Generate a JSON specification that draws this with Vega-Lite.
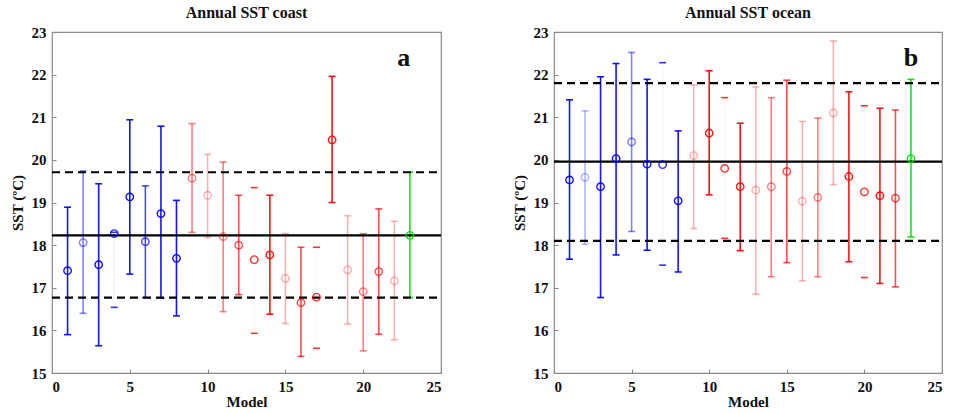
{
  "$schema": "https://vega.github.io/schema/vega-lite/v6.json",
  "background": "white",
  "padding": {"left": 9, "top": 4, "right": 5, "bottom": 0},
  "spacing": 68,
  "config": {
    "font": "Liberation Serif",
    "view": {"stroke": "#8a8a8a", "strokeWidth": 1.2},
    "axis": {
      "labelFont": "Liberation Serif",
      "labelFontWeight": "bold",
      "labelFontSize": 15,
      "labelColor": "#111",
      "titleFont": "Liberation Serif",
      "titleFontWeight": "bold",
      "titleFontSize": 15,
      "titleColor": "#111",
      "grid": false,
      "domain": false,
      "tickColor": "#888",
      "tickSize": -4,
      "labelPadding": 10
    },
    "title": {
      "font": "Liberation Serif",
      "fontWeight": "bold",
      "fontSize": 16,
      "color": "#111",
      "offset": 0
    }
  },
  "datasets": {
    "coast": [
      {"model": 1, "mean": 17.40, "lo": 15.90, "hi": 18.89, "group": "blue", "tier": 4},
      {"model": 2, "mean": 18.06, "lo": 16.40, "hi": 19.74, "group": "blue", "tier": 2},
      {"model": 3, "mean": 17.54, "lo": 15.64, "hi": 19.44, "group": "blue", "tier": 4},
      {"model": 4, "mean": 18.27, "lo": 16.54, "hi": 18.30, "group": "blue", "tier": 0},
      {"model": 5, "mean": 19.13, "lo": 17.32, "hi": 20.94, "group": "blue", "tier": 4},
      {"model": 6, "mean": 18.08, "lo": 16.77, "hi": 19.39, "group": "blue", "tier": 3},
      {"model": 7, "mean": 18.74, "lo": 16.76, "hi": 20.79, "group": "blue", "tier": 4},
      {"model": 8, "mean": 17.69, "lo": 16.34, "hi": 19.05, "group": "blue", "tier": 4},
      {"model": 9, "mean": 19.57, "lo": 18.30, "hi": 20.85, "group": "red", "tier": 2},
      {"model": 10, "mean": 19.17, "lo": 18.18, "hi": 20.13, "group": "red", "tier": 1},
      {"model": 11, "mean": 18.20, "lo": 16.44, "hi": 19.95, "group": "red", "tier": 2},
      {"model": 12, "mean": 18.00, "lo": 16.84, "hi": 19.17, "group": "red", "tier": 3},
      {"model": 13, "mean": 17.66, "lo": 15.93, "hi": 19.35, "group": "red", "tier": 0},
      {"model": 14, "mean": 17.77, "lo": 16.38, "hi": 19.17, "group": "red", "tier": 4},
      {"model": 15, "mean": 17.22, "lo": 16.16, "hi": 18.27, "group": "red", "tier": 1},
      {"model": 16, "mean": 16.65, "lo": 15.39, "hi": 17.95, "group": "red", "tier": 3},
      {"model": 17, "mean": 16.78, "lo": 15.58, "hi": 17.95, "group": "red", "tier": 0},
      {"model": 18, "mean": 20.47, "lo": 19.00, "hi": 21.96, "group": "red", "tier": 4},
      {"model": 19, "mean": 17.42, "lo": 16.15, "hi": 18.69, "group": "red", "tier": 1},
      {"model": 20, "mean": 16.91, "lo": 15.52, "hi": 18.27, "group": "red", "tier": 2},
      {"model": 21, "mean": 17.38, "lo": 15.91, "hi": 18.85, "group": "red", "tier": 3},
      {"model": 22, "mean": 17.16, "lo": 15.78, "hi": 18.56, "group": "red", "tier": 1},
      {"model": 23, "mean": 18.23, "lo": 16.77, "hi": 19.71, "group": "green", "tier": 4}
    ],
    "ocean": [
      {"model": 1, "mean": 19.53, "lo": 17.67, "hi": 21.41, "group": "blue", "tier": 4},
      {"model": 2, "mean": 19.59, "lo": 18.02, "hi": 21.15, "group": "blue", "tier": 1},
      {"model": 3, "mean": 19.37, "lo": 16.77, "hi": 21.95, "group": "blue", "tier": 4},
      {"model": 4, "mean": 20.03, "lo": 17.77, "hi": 22.26, "group": "blue", "tier": 4},
      {"model": 5, "mean": 20.42, "lo": 18.32, "hi": 22.52, "group": "blue", "tier": 2},
      {"model": 6, "mean": 19.90, "lo": 17.88, "hi": 21.89, "group": "blue", "tier": 4},
      {"model": 7, "mean": 19.89, "lo": 17.53, "hi": 22.28, "group": "blue", "tier": 0},
      {"model": 8, "mean": 19.04, "lo": 17.37, "hi": 20.68, "group": "blue", "tier": 4},
      {"model": 9, "mean": 20.10, "lo": 18.39, "hi": 21.76, "group": "red", "tier": 1},
      {"model": 10, "mean": 20.63, "lo": 19.18, "hi": 22.09, "group": "red", "tier": 4},
      {"model": 11, "mean": 19.80, "lo": 18.16, "hi": 21.46, "group": "red", "tier": 0},
      {"model": 12, "mean": 19.37, "lo": 17.87, "hi": 20.86, "group": "red", "tier": 4},
      {"model": 13, "mean": 19.29, "lo": 16.85, "hi": 21.71, "group": "red", "tier": 1},
      {"model": 14, "mean": 19.37, "lo": 17.26, "hi": 21.46, "group": "red", "tier": 2},
      {"model": 15, "mean": 19.73, "lo": 17.59, "hi": 21.87, "group": "red", "tier": 3},
      {"model": 16, "mean": 19.03, "lo": 17.16, "hi": 20.90, "group": "red", "tier": 1},
      {"model": 17, "mean": 19.12, "lo": 17.26, "hi": 20.98, "group": "red", "tier": 2},
      {"model": 18, "mean": 21.10, "lo": 19.42, "hi": 22.79, "group": "red", "tier": 1},
      {"model": 19, "mean": 19.61, "lo": 17.61, "hi": 21.60, "group": "red", "tier": 4},
      {"model": 20, "mean": 19.25, "lo": 17.24, "hi": 21.27, "group": "red", "tier": 0},
      {"model": 21, "mean": 19.16, "lo": 17.10, "hi": 21.21, "group": "red", "tier": 4},
      {"model": 22, "mean": 19.10, "lo": 17.02, "hi": 21.17, "group": "red", "tier": 3},
      {"model": 23, "mean": 20.03, "lo": 18.19, "hi": 21.89, "group": "green", "tier": 4}
    ],
    "coastRef": [
      {"value": 18.23, "kind": "mean"},
      {"value": 19.71, "kind": "bound"},
      {"value": 16.77, "kind": "bound"}
    ],
    "oceanRef": [
      {"value": 19.96, "kind": "mean"},
      {"value": 21.80, "kind": "bound"},
      {"value": 18.10, "kind": "bound"}
    ]
  },
  "hconcat": [
    {
      "title": "Annual SST coast",
      "width": 389,
      "height": 341,
      "encoding": {
        "x": {"type": "quantitative",
              "scale": {"domain": [0, 25], "nice": false},
              "axis": {"values": [0, 5, 10, 15, 20, 25], "title": "Model", "titlePadding": 0}},
        "y": {"type": "quantitative",
              "scale": {"domain": [15, 23], "nice": false},
              "axis": {"values": [15, 16, 17, 18, 19, 20, 21, 22, 23], "title": "SST (ºC)", "titlePadding": 6}}
      },
      "layer": [
        {
          "data": {"name": "coast"},
          "mark": {"type": "rule", "strokeWidth": 1.6},
          "encoding": {
            "x": {"field": "model"},
            "y": {"field": "lo", "type": "quantitative"},
            "y2": {"field": "hi"},
            "color": {"field": "group", "type": "nominal", "legend": null,
                      "scale": {"domain": ["blue", "red", "green"], "range": ["#0000ff", "#ff0000", "#00e000"]}},
            "opacity": {"condition": {"test": "datum.tier == 0", "value": 0.04},
                        "field": "tier", "type": "quantitative", "legend": null,
                        "scale": {"type": "linear", "domain": [0, 1, 2, 3, 4], "range": [0.8, 0.3, 0.5, 0.7, 0.92]}}
          }
        },
        {
          "data": {"name": "coast"},
          "mark": {"type": "tick", "orient": "horizontal", "size": 7, "thickness": 1.6},
          "encoding": {
            "x": {"field": "model"},
            "y": {"field": "lo", "type": "quantitative"},
            "color": {"field": "group", "type": "nominal", "legend": null},
            "opacity": {"field": "tier", "type": "quantitative", "legend": null}
          }
        },
        {
          "data": {"name": "coast"},
          "mark": {"type": "tick", "orient": "horizontal", "size": 7, "thickness": 1.6},
          "encoding": {
            "x": {"field": "model"},
            "y": {"field": "hi", "type": "quantitative"},
            "color": {"field": "group", "type": "nominal", "legend": null},
            "opacity": {"field": "tier", "type": "quantitative", "legend": null}
          }
        },
        {
          "data": {"name": "coastRef"},
          "mark": {"type": "rule", "color": "black", "strokeWidth": 2.2},
          "encoding": {
            "x": {"value": 0},
            "x2": {"value": 389},
            "y": {"field": "value", "type": "quantitative"},
            "strokeDash": {"field": "kind", "type": "nominal", "legend": null,
                           "scale": {"domain": ["mean", "bound"], "range": [[1, 0], [8, 5]]}}
          }
        },
        {
          "data": {"name": "coast"},
          "mark": {"type": "point", "shape": "circle", "filled": false, "size": 55, "strokeWidth": 1.4},
          "encoding": {
            "x": {"field": "model"},
            "y": {"field": "mean", "type": "quantitative"},
            "color": {"field": "group", "type": "nominal", "legend": null},
            "opacity": {"field": "tier", "type": "quantitative", "legend": null}
          }
        },
        {
          "data": {"values": [{"label": "a"}]},
          "mark": {"type": "text", "fontSize": 26, "fontWeight": "bold", "font": "Liberation Serif", "color": "#111"},
          "encoding": {
            "x": {"datum": 22.6},
            "y": {"datum": 22.4},
            "text": {"field": "label"}
          }
        }
      ]
    },
    {
      "title": "Annual SST ocean",
      "width": 388,
      "height": 341,
      "encoding": {
        "x": {"type": "quantitative",
              "scale": {"domain": [0, 25], "nice": false},
              "axis": {"values": [0, 5, 10, 15, 20, 25], "title": "Model", "titlePadding": 0}},
        "y": {"type": "quantitative",
              "scale": {"domain": [15, 23], "nice": false},
              "axis": {"values": [15, 16, 17, 18, 19, 20, 21, 22, 23], "title": "SST (ºC)", "titlePadding": 6}}
      },
      "layer": [
        {
          "data": {"name": "ocean"},
          "mark": {"type": "rule", "strokeWidth": 1.6},
          "encoding": {
            "x": {"field": "model"},
            "y": {"field": "lo", "type": "quantitative"},
            "y2": {"field": "hi"},
            "color": {"field": "group", "type": "nominal", "legend": null,
                      "scale": {"domain": ["blue", "red", "green"], "range": ["#0000ff", "#ff0000", "#00e000"]}},
            "opacity": {"condition": {"test": "datum.tier == 0", "value": 0.04},
                        "field": "tier", "type": "quantitative", "legend": null,
                        "scale": {"type": "linear", "domain": [0, 1, 2, 3, 4], "range": [0.8, 0.3, 0.5, 0.7, 0.92]}}
          }
        },
        {
          "data": {"name": "ocean"},
          "mark": {"type": "tick", "orient": "horizontal", "size": 7, "thickness": 1.6},
          "encoding": {
            "x": {"field": "model"},
            "y": {"field": "lo", "type": "quantitative"},
            "color": {"field": "group", "type": "nominal", "legend": null},
            "opacity": {"field": "tier", "type": "quantitative", "legend": null}
          }
        },
        {
          "data": {"name": "ocean"},
          "mark": {"type": "tick", "orient": "horizontal", "size": 7, "thickness": 1.6},
          "encoding": {
            "x": {"field": "model"},
            "y": {"field": "hi", "type": "quantitative"},
            "color": {"field": "group", "type": "nominal", "legend": null},
            "opacity": {"field": "tier", "type": "quantitative", "legend": null}
          }
        },
        {
          "data": {"name": "oceanRef"},
          "mark": {"type": "rule", "color": "black", "strokeWidth": 2.2},
          "encoding": {
            "x": {"value": 0},
            "x2": {"value": 388},
            "y": {"field": "value", "type": "quantitative"},
            "strokeDash": {"field": "kind", "type": "nominal", "legend": null,
                           "scale": {"domain": ["mean", "bound"], "range": [[1, 0], [8, 5]]}}
          }
        },
        {
          "data": {"name": "ocean"},
          "mark": {"type": "point", "shape": "circle", "filled": false, "size": 55, "strokeWidth": 1.4},
          "encoding": {
            "x": {"field": "model"},
            "y": {"field": "mean", "type": "quantitative"},
            "color": {"field": "group", "type": "nominal", "legend": null},
            "opacity": {"field": "tier", "type": "quantitative", "legend": null}
          }
        },
        {
          "data": {"values": [{"label": "b"}]},
          "mark": {"type": "text", "fontSize": 26, "fontWeight": "bold", "font": "Liberation Serif", "color": "#111"},
          "encoding": {
            "x": {"datum": 23.0},
            "y": {"datum": 22.4},
            "text": {"field": "label"}
          }
        }
      ]
    }
  ]
}
